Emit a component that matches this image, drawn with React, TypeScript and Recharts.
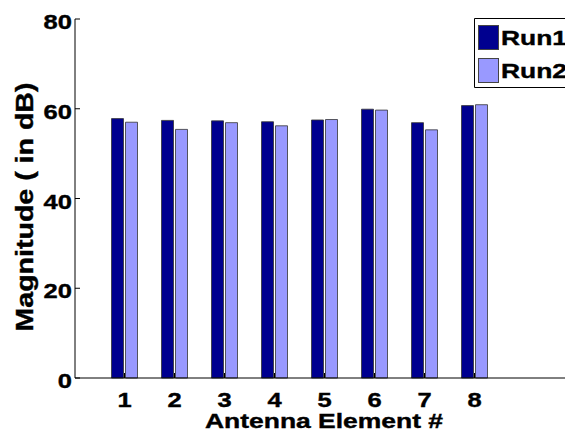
import { BarChart, Bar, XAxis, YAxis, Label, Customized } from 'recharts';

const elements = ['1', '2', '3', '4', '5', '6', '7', '8'];
const run1 = [57.8, 57.4, 57.3, 57.1, 57.5, 59.9, 56.9, 60.7];
const run2 = [57.0, 55.4, 56.9, 56.2, 57.6, 59.7, 55.3, 60.9];
const yTicks = [0, 20, 40, 60, 80];

const RUN1_COLOR = '#00008f';
const RUN2_COLOR = '#9999ff';
const FONT = '"Liberation Sans", Arial, Helvetica, sans-serif';

const data = elements.map((el, i) => ({ el, run1: run1[i], run2: run2[i] }));

// matlab export is stretched sideways, so text gets widened a bit
const DIGIT_W = 14.2;
const textStyle = {
  fontFamily: FONT,
  fontWeight: 'bold' as const,
  fill: '#000',
  stroke: '#000',
  strokeWidth: 0.4,
};

const YTick = (props: any) => {
  const { x, y, payload } = props;
  const label = String(payload.value);
  return (
    <g>
      <line x1={x + 3} x2={x + 8} y1={y} y2={y} stroke="#000" />
      <text x={x} y={y + 10} textAnchor="end" fontSize={21}
        textLength={label.length * DIGIT_W} lengthAdjust="spacingAndGlyphs" {...textStyle}>
        {label}
      </text>
    </g>
  );
};

const XTick = (props: any) => {
  const { x, y, payload } = props;
  return (
    <g>
      <line x1={x} x2={x} y1={y} y2={y - 5} stroke="#000" />
      <text x={x} y={y + 29} textAnchor="middle" fontSize={21}
        textLength={DIGIT_W} lengthAdjust="spacingAndGlyphs" {...textStyle}>
        {payload.value}
      </text>
    </g>
  );
};

const TopTick = (props: any) => {
  const { x, y } = props;
  return <line x1={x} x2={x} y1={y} y2={y + 5} stroke="#000" />;
};

const legendItems = [
  { name: 'Run1', color: RUN1_COLOR },
  { name: 'Run2', color: RUN2_COLOR },
];

// legend box is cut off by the right edge in the original, so leave its right side open
const LegendBox = () => (
  <g>
    <path d="M620 18.5 H474.5 V87.5 H620" fill="#fff" stroke="#000" />
    {legendItems.map((it, i) => (
      <g key={it.name}>
        <rect x={478.5} y={25.5 + i * 33} width={20} height={24} fill={it.color} stroke="#444" />
        <text x={501} y={45 + i * 33} fontSize={21} textLength={66}
          lengthAdjust="spacingAndGlyphs" {...textStyle}>
          {it.name}
        </text>
      </g>
    ))}
  </g>
);

export default function App() {
  return (
    <div style={{ position: 'absolute', left: 0, top: 0 }}>
      <BarChart width={565} height={434} data={data}
        margin={{ top: 19, right: 0, bottom: 0, left: 15 }} barSize={12} barGap={2}>
        <XAxis dataKey="el" xAxisId="bottom" height={56} padding={{ left: 24.5, right: 65.5 }}
          axisLine={{ stroke: '#000' }} tickLine={false} tickSize={0} tickMargin={0}
          tick={<XTick />} interval={0}>
          <Label content={(p: any) => {
            const vb = p.viewBox;
            return (
              <text x={324} y={vb.y + 50} textAnchor="middle" fontSize={21}
                textLength={238} lengthAdjust="spacingAndGlyphs" {...textStyle}>
                Antenna Element #
              </text>
            );
          }} />
        </XAxis>
        <XAxis dataKey="el" xAxisId="top" orientation="top" height={0} padding={{ left: 24.5, right: 65.5 }}
          axisLine={{ stroke: '#000' }} tickLine={false} tickSize={0} tickMargin={0}
          tick={<TopTick />} interval={0} />
        <YAxis width={60} domain={[0, 80]} ticks={yTicks} axisLine={{ stroke: '#000' }}
          tickLine={false} tickSize={0} tickMargin={3} tick={<YTick />} interval={0}>
          <Label content={(p: any) => {
            const vb = p.viewBox;
            const cx = vb.x + 18;
            const cy = 207;
            return (
              <text x={cx} y={cy} transform={`rotate(-90 ${cx} ${cy})`} textAnchor="middle" fontSize={24}
                textLength={249} lengthAdjust="spacingAndGlyphs" {...textStyle}>
                Magnitude ( in dB)
              </text>
            );
          }} />
        </YAxis>
        <Bar dataKey="run1" xAxisId="bottom" fill={RUN1_COLOR} stroke="#333" strokeWidth={0.8} isAnimationActive={false} />
        <Bar dataKey="run2" xAxisId="bottom" fill={RUN2_COLOR} stroke="#333" strokeWidth={0.8} isAnimationActive={false} />
        <Customized component={LegendBox} />
      </BarChart>
    </div>
  );
}
